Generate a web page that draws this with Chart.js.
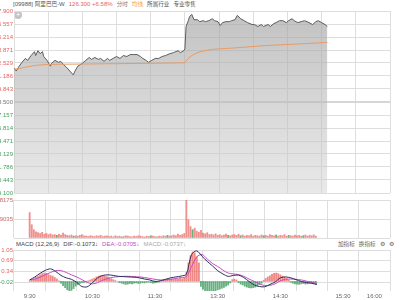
<!DOCTYPE html>
<html>
<head>
<meta charset="utf-8">
<script src="https://cdn.jsdelivr.net/npm/chart.js@4/dist/chart.umd.min.js"></script>
<style>
  body { margin: 0; width: 400px; height: 300px; overflow: hidden; position: relative; background: #fff;
         font-family: 'Liberation Sans', 'Noto Sans CJK SC', sans-serif; }
  canvas { position: absolute; left: 0; top: 0; }
  .row { position: absolute; font-size: 6px; line-height: 7px; white-space: nowrap; color: #555; display: flex; }
  .row > span { margin-right: 4px; }
  .cjk { font-size: 5.6px; }
  .plus { position: absolute; left: 14px; top: 11px; width: 8px; height: 8px; border-radius: 50%;
          background: #c4c4c4; color: #fff; font-size: 8px; line-height: 8px; text-align: center; }
</style>
</head>
<body>
<div class="row" style="left:13px;top:1px">
  <span>[09988] <span class="cjk">阿里巴巴</span>-W</span>
  <span style="color:#e8625e">126.300 +6.58%</span>
  <span class="cjk" style="color:#777">分时</span>
  <span class="cjk" style="color:#f0a033">均线</span>
  <span class="cjk">所属行业</span>
  <span class="cjk">专业零售</span>
</div>
<div class="plus">+</div>
<div class="row" style="left:16px;top:241px">
  <span style="color:#444">MACD (12,26,9)</span>
  <span style="color:#444">DIF:-0.1073↓</span>
  <span style="color:#c54cc5">DEA:-0.0705↓</span>
  <span style="color:#aaa">MACD:-0.0737↓</span>
</div>
<div class="row" style="left:338px;top:241px;color:#666">
  <span class="cjk">加指标</span><span class="cjk">换指标</span><span>⚙</span><span>⚙</span>
</div>

<canvas id="price" width="400" height="300"></canvas>
<canvas id="vol" width="400" height="300"></canvas>
<canvas id="macd" width="400" height="300"></canvas>

<script>
// minutes since 9:30, lunch break removed (12:00 == 13:00 == 150)
const gridMinutes = [0, 30, 60, 90, 120, 150, 180, 210, 240, 270, 300, 330];
const timeTicks = [0, 60, 120, 180, 240, 300, 330];
const timeLabels = ['9:30', '10:30', '11:30', '13:30', '14:30', '15:30', '16:00'];

const priceTicks = [127.9, 126.557, 125.214, 123.871, 122.529, 121.186, 119.843, 118.5,
                    117.157, 115.814, 114.471, 113.129, 111.786, 110.443, 109.1];
const pctLabels = ['7.93%', '6.80%', '5.67%', '4.53%', '3.40%', '2.27%', '1.13%', '0.00%',
                   '1.13%', '2.27%', '3.40%', '4.53%', '5.67%', '6.80%', '7.93%'];
const prevClose = 118.5;

const priceTime = [0, 2, 4, 7, 10, 12, 15, 18, 19, 21, 23, 25, 26, 29, 32, 33, 36, 39, 41, 44, 46, 49, 52, 54, 56,
  60, 63, 66, 68, 71, 74, 76, 79, 82, 84, 87, 90, 93, 96, 99, 102, 105, 108, 111, 113, 116, 118, 121, 124, 127,
  130, 133, 137, 140, 144, 146, 149, 150, 151, 153, 154, 156, 158, 161, 163, 166, 168, 171, 174, 176, 179, 181,
  183, 186, 189, 191, 194, 196, 199, 202, 205, 209, 211, 214, 217, 219, 223, 225, 228, 230, 233, 236, 239, 241,
  244, 246, 249, 252, 255, 259, 262, 265, 267, 270, 273, 275];
const priceVal = [122.0, 121.7, 122.1, 122.6, 123.0, 122.8, 123.3, 123.7, 123.3, 123.8, 123.5, 123.7, 123.2, 122.8,
  122.2, 122.5, 122.8, 122.6, 122.7, 122.3, 122.1, 121.7, 121.3, 121.8, 122.2,
  122.5, 122.8, 123.1, 122.9, 123.1, 122.9, 123.0, 122.7, 123.0, 122.8, 123.0, 123.2, 123.0, 123.3, 123.2,
  123.4, 123.4, 123.4, 123.2, 123.0, 122.8, 122.6, 122.8, 123.0, 123.0,
  123.2, 123.3, 123.5, 123.6, 123.8, 123.6, 123.8, 124.0, 126.3, 126.9, 127.3, 127.55, 127.0, 127.0, 126.8,
  126.9, 126.8, 126.9, 127.1, 126.9, 126.8, 126.4,
  126.7, 126.8, 126.8, 126.9, 127.0, 127.45, 127.1, 126.9, 126.7, 126.5, 126.5, 126.3, 126.5, 126.3, 126.5,
  126.3, 126.6, 126.7, 126.9, 126.9, 126.7, 126.9,
  127.1, 126.9, 126.7, 126.8, 126.9, 126.7, 126.5, 126.8, 126.9, 126.7, 126.5, 126.3];

const avgTime = [0, 5, 10, 20, 30, 40, 60, 90, 120, 150, 152, 156, 160, 165, 175, 192, 222, 250, 275];
const avgVal = [121.9, 121.95, 122.1, 122.3, 122.38, 122.4, 122.42, 122.46, 122.5, 122.55, 122.9, 123.3,
  123.55, 123.75, 123.95, 124.07, 124.34, 124.5, 124.65];

// volume, one bar per 2 minutes
const volTickLabels = ['18175', '13635', '9035', '4535'];
const volumes = [67, 35, 22, 16, 14, 12, 15, 10, 12, 9, 11, 8, 9, 7, 10, 8, 13, 9, 7, 6, 8, 5, 6, 5, 7, 9, 6, 5, 4, 6,
  5, 4, 6, 5, 7, 4, 5, 6, 4, 5, 3, 6, 4, 5, 3, 4, 6, 5, 4, 3, 5, 4, 6, 5, 4, 3, 5, 4, 6, 5,
  4, 3, 5, 4, 6, 5, 7, 5, 6, 8, 6, 10, 7, 9, 12,
  99, 48, 30, 22, 26, 18, 15, 20, 13, 11, 14, 9, 10, 8, 11, 7, 9, 6, 8, 10, 7, 6, 8, 9, 7, 10, 6, 8, 5, 7,
  6, 9, 5, 7, 6, 5, 8, 6, 7, 5, 9, 7, 6, 8, 5, 7, 6, 9, 5, 7, 6, 5, 8, 6, 7, 5, 6, 8, 5, 7, 6, 8, 5];
const volDownBars = [13, 21, 44, 58, 66, 78, 95, 101, 112, 118, 124, 131];

// MACD histogram, one bar per 2 minutes
const macdBars = [0.02, 0.05, 0.09, 0.14, 0.18, 0.22, 0.26, 0.28, 0.27, 0.23, 0.2, 0.18, 0.13, 0.08, 0.02,
  -0.06, -0.14, -0.21, -0.28, -0.32, -0.3, -0.24, -0.16, -0.11, -0.07, -0.04, -0.03, -0.02, 0.02, 0.05,
  0.08, 0.11, 0.15, 0.18, 0.19, 0.19, 0.18, 0.16, 0.13, 0.09, 0.06, 0.03, 0.0, -0.04, -0.06,
  -0.08, -0.1, -0.09, -0.07, -0.08, -0.06, -0.05, -0.07, -0.06, -0.04, -0.05, -0.03, -0.02, -0.04, -0.06,
  -0.05, -0.03, -0.02, 0.02, 0.05, 0.07, 0.08, 0.06, 0.08, 0.07, 0.09, 0.08, 0.1, 0.09, 0.11,
  0.3, 0.62, 0.86, 0.98, 0.95, 0.83, 0.62, -0.17, -0.26, -0.33, -0.35, -0.36, -0.35, -0.33, -0.31,
  -0.28, -0.26, -0.23, -0.2, -0.16, -0.12, -0.05, 0.06, 0.08, 0.05, -0.04, -0.09, -0.12, -0.16, -0.19,
  -0.21, -0.22, -0.21, -0.19, -0.15, -0.11, -0.06, 0.04, 0.1, 0.15, 0.19, 0.24, 0.27, 0.28, 0.26,
  0.22, 0.18, 0.15, 0.1, 0.05, -0.03, -0.06, -0.08, -0.09, -0.1, -0.08, -0.07, -0.09, -0.08, -0.06,
  -0.07, -0.08, -0.07];

// DIF / DEA, one point per 5 minutes
const difVal = [0.05, 0.15, 0.27, 0.37, 0.42, 0.33, 0.2, 0.12, 0.07, -0.03, -0.17,
  -0.18, -0.05, 0.12, 0.2, 0.22, 0.2, 0.17, 0.16, 0.15, 0.14,
  0.12, 0.08, 0.05, 0.0, 0.02, 0.07, 0.12, 0.15, 0.18, 0.24,
  0.9, 1.02, 0.84, 0.67, 0.52, 0.36, 0.25, 0.17, 0.2, 0.21,
  0.13, 0.0, -0.12, -0.17, -0.18, -0.1, -0.02, 0.12, 0.15, 0.12,
  0.06, 0.0, -0.04, -0.06, -0.107];
const deaVal = [0.05, 0.08, 0.14, 0.22, 0.3, 0.36, 0.36, 0.3, 0.22, 0.15, 0.06,
  -0.03, -0.08, -0.04, 0.04, 0.1, 0.14, 0.16, 0.17, 0.17, 0.16,
  0.15, 0.13, 0.1, 0.07, 0.05, 0.05, 0.07, 0.1, 0.13, 0.16,
  0.5, 0.82, 0.9, 0.75, 0.6, 0.5, 0.38, 0.28, 0.25, 0.23,
  0.17, 0.08, 0.0, -0.08, -0.14, -0.13, -0.08, 0.02, 0.07, 0.08,
  0.07, 0.05, 0.01, -0.03, -0.07];
const macdTicks = [1.05, 0.69, 0.34, -0.02];

const RED = '#e8625e';
const GREEN = '#3f9f5f';
const GRID = '#dedede';
const tickFont = { family: 'Liberation Sans', size: 6 };

function xScale(showLabels) {
  return {
    type: 'linear', min: 0, max: 330,
    afterBuildTicks: s => { s.ticks = gridMinutes.map(v => ({ value: v })); },
    grid: { color: GRID, drawTicks: false },
    border: { display: false },
    ticks: {
      display: showLabels, autoSkip: false, maxRotation: 0, padding: 2, color: '#666', font: tickFont,
      callback: v => { let i = timeTicks.indexOf(v); return i >= 0 ? timeLabels[i] : ''; }
    },
    afterFit: s => { s.height = showLabels ? 9 : 0; }
  };
}

const baseOpts = {
  responsive: false, animation: false, devicePixelRatio: 1,
  plugins: { legend: { display: false }, tooltip: { enabled: false } }
};

function priceColor(v) {
  if (Math.abs(v - prevClose) < 0.01) return '#777';
  return v > prevClose ? RED : GREEN;
}

new Chart(document.getElementById('price'), {
  type: 'line',
  data: {
    datasets: [{
      data: avgTime.map((t, i) => ({ x: t, y: avgVal[i] })),
      borderColor: '#e59c66', borderWidth: 1, pointRadius: 0, fill: false
    }, {
      data: priceTime.map((t, i) => ({ x: t, y: priceVal[i] })),
      borderColor: '#5c5c5c', borderWidth: 1, pointRadius: 0, fill: 'start',
      backgroundColor: ctx => {
        let a = ctx.chart.chartArea;
        if (!a) return 'rgba(190,190,190,0.6)';
        let g = ctx.chart.ctx.createLinearGradient(0, a.top, 0, a.bottom);
        g.addColorStop(0, 'rgba(160,160,160,0.65)');
        g.addColorStop(1, 'rgba(210,210,210,0.5)');
        return g;
      }
    }]
  },
  options: {
    ...baseOpts,
    layout: { padding: { top: 11, bottom: 107 } },
    scales: {
      x: xScale(false),
      y: {
        min: 109.1, max: 127.9,
        afterBuildTicks: s => { s.ticks = priceTicks.map(v => ({ value: v })); },
        grid: {
          drawTicks: false,
          color: ctx => Math.abs(ctx.tick.value - prevClose) < 0.01 ? '#d6d6d6' : GRID,
          lineWidth: ctx => Math.abs(ctx.tick.value - prevClose) < 0.01 ? 2 : 1
        },
        border: { display: false },
        ticks: { padding: 1, font: tickFont, color: ctx => priceColor(ctx.tick.value), callback: v => v.toFixed(3) },
        afterFit: s => { s.width = 14; }
      },
      y2: {
        position: 'right', min: 109.1, max: 127.9,
        afterBuildTicks: s => { s.ticks = priceTicks.map(v => ({ value: v })); },
        grid: { display: false },
        border: { display: false },
        ticks: {
          padding: 2, font: tickFont, color: ctx => priceColor(ctx.tick.value),
          callback: (v, i) => pctLabels[i]
        },
        afterFit: s => { s.width = 10; }
      }
    }
  }
});

new Chart(document.getElementById('vol'), {
  type: 'bar',
  data: {
    datasets: [{
      data: volumes.map((v, i) => ({ x: i * 2, y: v })),
      backgroundColor: volumes.map((v, i) => volDownBars.includes(i) ? 'rgba(63,159,95,0.8)' : 'rgba(232,98,94,0.7)'),
      barThickness: 1.2
    }]
  },
  options: {
    ...baseOpts,
    layout: { padding: { top: 200, bottom: 62, right: 10 } },
    scales: {
      x: xScale(false),
      y: {
        min: 0, max: 100,
        afterBuildTicks: s => { s.ticks = [100, 75, 50, 25, 0].map(v => ({ value: v })); },
        grid: { drawTicks: false, color: GRID },
        border: { display: false },
        ticks: { padding: 1, font: tickFont, color: '#c46a6a', callback: (v, i) => volTickLabels[i] || '' },
        afterFit: s => { s.width = 14; }
      }
    }
  }
});

new Chart(document.getElementById('macd'), {
  type: 'bar',
  data: {
    datasets: [{
      type: 'line',
      data: difVal.map((v, i) => ({ x: i * 5, y: v })),
      borderColor: '#2e2e5c', borderWidth: 1, pointRadius: 0, tension: 0.3
    }, {
      type: 'line',
      data: deaVal.map((v, i) => ({ x: i * 5, y: v })),
      borderColor: '#c54cc5', borderWidth: 1, pointRadius: 0, tension: 0.3
    }, {
      data: macdBars.map((v, i) => ({ x: i * 2, y: v })),
      backgroundColor: macdBars.map(v => v >= 0 ? 'rgba(232,98,94,0.75)' : 'rgba(63,159,95,0.8)'),
      barThickness: 1.2
    }]
  },
  options: {
    ...baseOpts,
    layout: { padding: { top: 250, bottom: 0, right: 10 } },
    scales: {
      x: xScale(true),
      y: {
        min: -0.32, max: 1.05,
        afterBuildTicks: s => { s.ticks = macdTicks.map(v => ({ value: v })); },
        grid: { drawTicks: false, color: GRID },
        border: { display: false },
        ticks: { padding: 1, font: tickFont, color: ctx => ctx.tick.value >= 0 ? RED : GREEN,
                 callback: v => v.toFixed(2) },
        afterFit: s => { s.width = 14; }
      }
    }
  }
});
</script>
</body>
</html>
